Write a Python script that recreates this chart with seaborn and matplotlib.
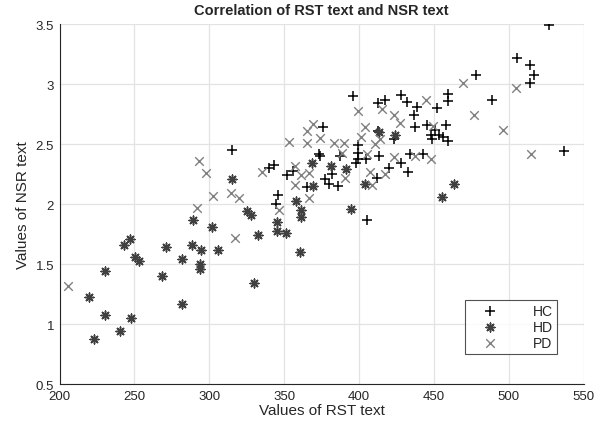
import matplotlib
matplotlib.use("Agg")
import matplotlib.pyplot as plt
import seaborn as sns
import pandas as pd

hc_x = [315, 340, 343, 346, 344.5, 352, 356, 365, 373, 374, 376, 377, 380, 382, 386, 387,
        396, 398, 399, 399, 399, 404.5, 405, 412, 413.5, 412.8, 417, 412.8, 420, 423.6, 428,
        428, 432, 433, 434, 436.5, 437.5, 439, 442.6, 445.5, 448, 449, 451, 452, 453.4, 456,
        458, 459.3, 459.5, 459.5, 478, 488.5, 505.6, 514, 517, 514, 527, 537]
hc_y = [2.45, 2.30, 2.33, 2.08, 2.00, 2.24, 2.28, 2.14, 2.42, 2.40, 2.64, 2.21, 2.17, 2.25, 2.15, 2.40,
        2.90, 2.34, 2.49, 2.43, 2.38, 2.38, 1.87, 2.22, 2.40, 2.84, 2.87, 2.61, 2.30, 2.54, 2.91,
        2.34, 2.85, 2.27, 2.42, 2.74, 2.64, 2.81, 2.42, 2.66, 2.58, 2.54, 2.62, 2.80, 2.58, 2.56,
        2.66, 2.53, 2.92, 2.86, 3.08, 2.87, 3.22, 3.16, 3.08, 3.01, 3.49, 2.44]

hd_x = [219.7, 230.4, 230.4, 223.3, 240.6, 247.8, 243, 247, 250.3, 253.2, 268.3, 271.2, 281.7,
        281.7, 288.1, 289, 293.5, 293.5, 294.4, 301.5, 305.9, 315, 325.1, 327.8, 332.5, 329.6,
        345.2, 345.2, 351.4, 360.3, 357.9, 361.2, 361.2, 368.5, 369.2, 381.3, 391.5, 394.7,
        404, 413.1, 424.3, 455.3, 463.5]
hd_y = [1.23, 1.44, 1.08, 0.88, 0.94, 1.05, 1.66, 1.71, 1.56, 1.525, 1.40, 1.64, 1.54,
        1.17, 1.66, 1.87, 1.50, 1.46, 1.62, 1.81, 1.62, 2.21, 1.94, 1.91, 1.74, 1.34,
        1.85, 1.78, 1.76, 1.60, 2.03, 1.95, 1.89, 2.34, 2.15, 2.32, 2.29, 1.96,
        2.17, 2.60, 2.58, 2.06, 2.17]

pd_x = [205.8, 292.8, 298.1, 302.6, 291.9, 314.4, 317.4, 319.8, 335.2, 346.3, 353.5, 357.4,
        361.2, 356.9, 365.3, 365.3, 366.8, 366.8, 369, 373.7, 383, 389.8, 388.7, 390.4, 399.2,
        401.4, 403.8, 405.3, 407, 408.5, 410.5, 414.3, 415, 417.3, 423.1, 423.6, 427.2, 437.3,
        444.4, 448.2, 449.3, 469.3, 476.7, 496.3, 504.8, 514.6]
pd_y = [1.32, 2.36, 2.26, 2.07, 1.97, 2.09, 1.72, 2.05, 2.27, 1.95, 2.52, 2.32,
        2.24, 2.16, 2.61, 2.51, 2.26, 2.05, 2.67, 2.55, 2.51, 2.51, 2.43, 2.22, 2.78,
        2.56, 2.64, 2.42, 2.27, 2.16, 2.50, 2.54, 2.79, 2.25, 2.74, 2.39, 2.68, 2.40,
        2.87, 2.38, 2.65, 3.01, 2.74, 2.62, 2.97, 2.42]

x_ticks = [200, 250, 300, 350, 400, 450, 500, 550]
y_ticks = [0.5, 1, 1.5, 2, 2.5, 3, 3.5]
y_tick_labels = ["0.5", "1", "1.5", "2", "2.5", "3", "3.5"]

sns.set_style("white")
plt.rcParams['font.family'] = ['Liberation Sans', 'DejaVu Sans']

fig = plt.figure(figsize=(6.08, 4.27), dpi=100)
ax = fig.add_axes([0.098, 0.098, 0.862, 0.843])

df_hc = pd.DataFrame({"x": hc_x, "y": hc_y})
df_hd = pd.DataFrame({"x": hd_x, "y": hd_y})
df_pd = pd.DataFrame({"x": pd_x, "y": pd_y})

sns.scatterplot(data=df_hc, x="x", y="y", marker="+", color="black", s=55,
                linewidth=1.1, label="HC", ax=ax, zorder=3)
sns.scatterplot(data=df_hd, x="x", y="y", marker=(8, 2, 0), color="#404040", s=40,
                linewidth=1.1, label="HD", ax=ax, zorder=3)
sns.scatterplot(data=df_pd, x="x", y="y", marker="x", color="#808080", s=38,
                linewidth=1.0, label="PD", ax=ax, zorder=3)

ax.set_xlim(200, 550)
ax.set_ylim(0.5, 3.5)
ax.set_xticks(x_ticks)
ax.set_yticks(y_ticks)
ax.set_yticklabels(y_tick_labels)
ax.grid(True, color="#e3e3e3", linewidth=0.9)
ax.set_axisbelow(True)
for side in ["top", "right"]:
    ax.spines[side].set_visible(False)
for side in ["left", "bottom"]:
    ax.spines[side].set_color("#262626")
    ax.spines[side].set_linewidth(0.8)
ax.tick_params(direction="in", length=4, width=0.8, color="#262626",
               labelsize=9.5, labelcolor="#262626", pad=4)

ax.set_title("Correlation of RST text and NSR text", fontsize=10.5, fontweight="bold", pad=7)
ax.set_xlabel("Values of RST text", fontsize=11, labelpad=1)
ax.set_ylabel("Values of NSR text", fontsize=11, labelpad=4)

leg = ax.legend(loc="lower right", bbox_to_anchor=(0.95, 0.083), frameon=True,
                fancybox=False, edgecolor="#262626", fontsize=10,
                handlelength=3.0, handletextpad=1.6, borderpad=0.3, labelspacing=0.15,
                markerfirst=True, borderaxespad=0)
leg.get_frame().set_linewidth(0.8)

fig.savefig("out.png", dpi=100)
